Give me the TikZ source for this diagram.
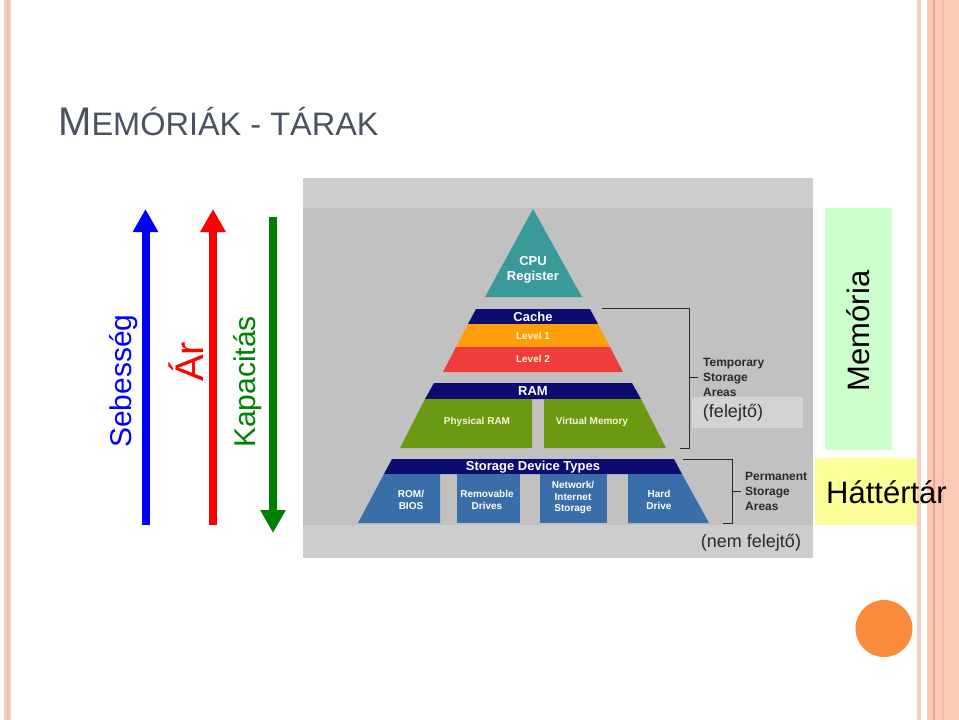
\documentclass[tikz,border=0pt]{standalone}
\usepackage{fontspec}
\setmainfont{Liberation Sans}
\usetikzlibrary{arrows.meta}
\definecolor{lpink}{HTML}{F5D0C0}
\definecolor{pinkfill}{HTML}{FCCAB6}
\definecolor{pinkdark}{HTML}{F0A584}
\definecolor{pinkmid}{HTML}{F7BCA6}
\definecolor{titlegray}{HTML}{4A5260}
\definecolor{panellight}{HTML}{CDCDCD}
\definecolor{panelmain}{HTML}{C1C1C1}
\definecolor{boxlight}{HTML}{D3D3D3}
\definecolor{teal}{HTML}{3A9A9A}
\definecolor{navy}{HTML}{0B0B70}
\definecolor{lvorange}{HTML}{FF9E0A}
\definecolor{lvred}{HTML}{F03C3C}
\definecolor{ramgreen}{HTML}{6B9A12}
\definecolor{stblue}{HTML}{3A6EA8}
\definecolor{paleyellow}{HTML}{FFF4D0}
\definecolor{labelgray}{HTML}{2A2A2A}
\definecolor{memgreen}{HTML}{CCFFCC}
\definecolor{hatyellow}{HTML}{FFFF99}
\definecolor{circorange}{HTML}{F98B3A}
\definecolor{arrblue}{HTML}{0000FF}
\definecolor{arrred}{HTML}{FF0000}
\definecolor{arrgreen}{HTML}{008000}
\tikzset{
  pyrtext/.style={text=white, font=\bfseries\fontsize{13}{15}\selectfont, inner sep=0, align=center},
  pyrsmall/.style={text=paleyellow, font=\bfseries\fontsize{10}{11.7}\selectfont, inner sep=0, align=center},
  sidelbl/.style={text=labelgray, font=\bfseries\fontsize{12}{15}\selectfont, align=left, anchor=west, inner sep=0},
  paren/.style={text=labelgray, font=\fontsize{18}{21}\selectfont, inner sep=0},
  bracket/.style={draw=labelgray, line width=1pt},
  bigarrow/.style={line width=8pt, -{Triangle[width=24pt,length=23pt]}},
  vlabel/.style={rotate=90, inner sep=0, font=\fontsize{30}{36}\selectfont}
}
\begin{document}
\begin{tikzpicture}[x=1pt,y=-1pt]
\useasboundingbox (0,0) rectangle (959,720);
\fill[white] (0,0) rectangle (959,720);
% borders
\fill[lpink] (4,0) rectangle (11,720);
\fill[pinkmid] (7,0) rectangle (9,720);
\fill[lpink] (917,0) rectangle (921,720);
\fill[pinkfill] (927,0) rectangle (959,720);
\fill[pinkdark] (933,0) rectangle (935,720);
\fill[pinkmid] (942,0) rectangle (943.5,720);
% title
\node[anchor=base west, inner sep=0, text=titlegray] (title) at (58,135)
  {\fontsize{40}{44}\selectfont M\fontsize{32.5}{36}\selectfont EMÓRIÁK - TÁRAK};
% arrows
\coordinate (b1) at (145.5,525); \coordinate (b2) at (145.5,209);
\coordinate (r1) at (213,525); \coordinate (r2) at (213,209);
\coordinate (g1) at (273,217); \coordinate (g2) at (273,533);
\draw[bigarrow, arrblue] (b1) -- (b2);
\draw[bigarrow, arrred] (r1) -- (r2);
\draw[bigarrow, arrgreen] (g1) -- (g2);
\node[vlabel, text=arrblue, anchor=west] (seb) at (124,448) {Sebesség};
\node[vlabel, text=arrred, anchor=west, font=\fontsize{40}{44}\selectfont] (ar) at (186,382) {Ár};
\node[vlabel, text=arrgreen, anchor=west] (kap) at (248,448) {Kapacitás};
% panel
\fill[panellight] (303,178) rectangle (813,558);
\fill[panelmain] (303,208) rectangle (813,525);
\fill[boxlight] (692,397) rectangle (803,428);
% pyramid
\fill[teal] (533,209) -- (582,297) -- (485,297) -- cycle;
\fill[navy] (476,309) -- (590,309) -- (598,324) -- (468,324) -- cycle;
\fill[lvorange] (468,324) -- (598,324) -- (610,347) -- (456,347) -- cycle;
\fill[lvred] (456,347) -- (610,347) -- (623,372) -- (443,372) -- cycle;
\fill[navy] (434,383) -- (632,383) -- (641,399) -- (425,399) -- cycle;
\fill[ramgreen] (425,399) -- (532,399) -- (532,448) -- (400,448) -- cycle;
\fill[ramgreen] (544,399) -- (641,399) -- (666,448) -- (544,448) -- cycle;
\fill[navy] (392,459) -- (674,459) -- (682,474) -- (384,474) -- cycle;
\fill[stblue] (384,474) -- (440,474) -- (440,523) -- (358,523) -- cycle;
\fill[stblue] (457,474) rectangle (520,523);
\fill[stblue] (540,474) rectangle (607,523);
\fill[stblue] (628,474) -- (682,474) -- (709,523) -- (628,523) -- cycle;
% pyramid texts
\node[pyrtext] (cpu) at (533,270) {CPU\\Register};
\node[pyrtext] (cache) at (533,316.5) {Cache};
\node[pyrsmall] (l1) at (533,335.5) {Level 1};
\node[pyrsmall] (l2) at (533,358.5) {Level 2};
\node[pyrtext] (ram) at (533,391) {RAM};
\node[pyrsmall] (phys) at (477,422) {Physical RAM};
\node[pyrsmall] (virt) at (592,422) {Virtual Memory};
\node[pyrtext] (sdt) at (533,467) {Storage Device Types};
\node[pyrsmall, text=white] (rom) at (411,500) {ROM/\\BIOS};
\node[pyrsmall, text=white] (rem) at (487,500) {Removable\\Drives};
\node[pyrsmall, text=white] (net) at (573,497.5) {Network/\\Internet\\Storage};
\node[pyrsmall, text=white] (hdd) at (659,500) {Hard\\Drive};
% brackets
\coordinate (t1) at (602,308.5); \coordinate (t2) at (689,308.5);
\coordinate (t3) at (689,448); \coordinate (t4) at (680,448);
\draw[bracket] (t1) -- (t2) -- (t3) -- (t4);
\coordinate (tm) at (689,377); \coordinate (tm2) at (698,377);
\draw[bracket] (tm) -- (tm2);
\coordinate (p1) at (683,459); \coordinate (p2) at (732,459);
\coordinate (p3) at (732,523); \coordinate (p4) at (723,523);
\draw[bracket] (p1) -- (p2) -- (p3) -- (p4);
\coordinate (pm) at (732,491); \coordinate (pm2) at (741,491);
\draw[bracket] (pm) -- (pm2);
\node[sidelbl] (temp) at (703,377) {Temporary\\Storage\\Areas};
\node[sidelbl] (perm) at (745,491) {Permanent\\Storage\\Areas};
\node[paren] (fel) at (733,413) {(felejtő)};
\node[paren] (nemfel) at (751,543) {(nem felejtő)};
% right boxes
\fill[memgreen] (825,208) rectangle (892,450);
\node[rotate=90, inner sep=0, font=\fontsize{31}{36}\selectfont, text=black] (mem) at (858,331) {Memória};
\fill[hatyellow] (815,458) rectangle (917,525);
\node[anchor=base west, inner sep=0, font=\fontsize{31}{36}\selectfont, text=black] (hat) at (826,503) {Háttértár};
% circle
\fill[circorange] (884,628.5) circle (28.5);
\end{tikzpicture}
\end{document}
